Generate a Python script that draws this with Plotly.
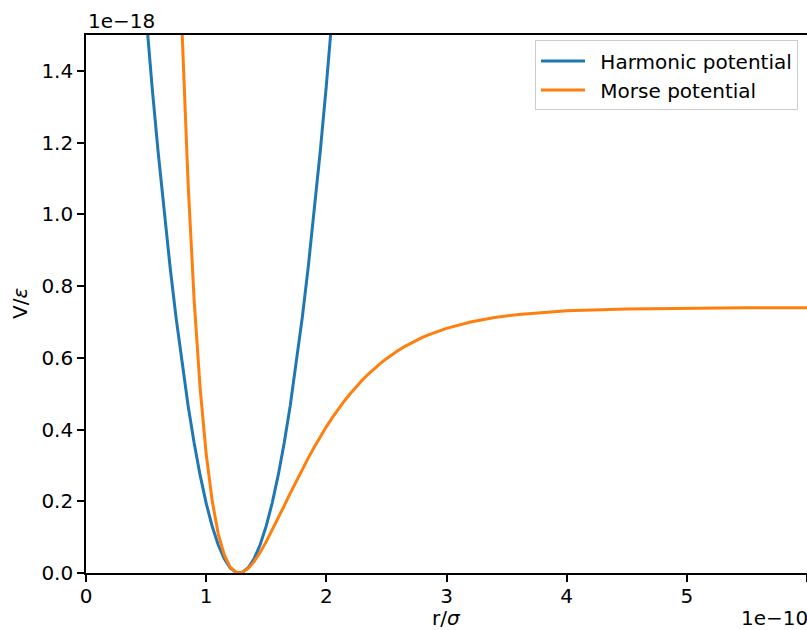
import plotly.graph_objects as go

# r in units of 1e-10 m, V in units of 1e-18 J
r_harm = [0.45, 0.50, 0.55, 0.60, 0.65, 0.70, 0.75, 0.80, 0.85, 0.90, 0.95, 1.00, 1.05, 1.10,
          1.15, 1.20, 1.25, 1.30, 1.35, 1.40, 1.45, 1.50, 1.55, 1.60, 1.65, 1.70, 1.75, 1.80,
          1.85, 1.90, 1.95, 2.00, 2.05, 2.10]
v_harm = [1.7557, 1.5492, 1.3557, 1.1750, 1.0073, 0.8525, 0.7106, 0.5816, 0.4655, 0.3623,
          0.2721, 0.1947, 0.1302, 0.0787, 0.0401, 0.0144, 0.0016, 0.0017, 0.0147, 0.0406,
          0.0794, 0.1312, 0.1958, 0.2734, 0.3639, 0.4673, 0.5836, 0.7128, 0.8549, 1.0099,
          1.1778, 1.3587, 1.5524, 1.7591]

r_morse = [0.70, 0.75, 0.80, 0.85, 0.90, 0.95, 1.00, 1.05, 1.10, 1.15, 1.20, 1.25, 1.30, 1.35,
           1.40, 1.45, 1.50, 1.55, 1.60, 1.65, 1.70, 1.75, 1.80, 1.85, 1.90, 1.95, 2.00, 2.05,
           2.10, 2.15, 2.20, 2.25, 2.30, 2.35, 2.40, 2.45, 2.50, 2.55, 2.60, 2.65, 2.70, 2.75,
           2.80, 2.85, 2.90, 2.95, 3.00, 3.20, 3.40, 3.60, 3.80, 4.00, 4.50, 5.00, 5.50, 6.00]
v_morse = [2.743, 2.0497, 1.5065, 1.0843, 0.7595, 0.5143, 0.3324, 0.2011, 0.1100, 0.0508,
           0.0166, 0.0016, 0.0016, 0.0128, 0.0323, 0.0578, 0.0874, 0.1197, 0.1535, 0.1880,
           0.2225, 0.2563, 0.2893, 0.3210, 0.3514, 0.3802, 0.4075, 0.4332, 0.4572, 0.4797,
           0.5006, 0.5201, 0.5381, 0.5548, 0.5703, 0.5845, 0.5976, 0.6097, 0.6208, 0.6310,
           0.6404, 0.6490, 0.6569, 0.6640, 0.6707, 0.6767, 0.6822, 0.7000, 0.7123, 0.7209,
           0.7268, 0.7309, 0.7364, 0.7386, 0.7395, 0.7398]

x_ticks = [0, 1, 2, 3, 4, 5, 6]
y_ticks = [0.0, 0.2, 0.4, 0.6, 0.8, 1.0, 1.2, 1.4]
y_tick_labels = ["0.0", "0.2", "0.4", "0.6", "0.8", "1.0", "1.2", "1.4"]

FONT = "DejaVu Sans"
FS = 20
PAD = "\u00a0\u2009"  # small gap between legend line and label

fig = go.Figure()
fig.add_trace(go.Scatter(x=r_harm, y=v_harm, mode="lines", name=PAD + "Harmonic potential",
                         line=dict(color="#1f77b4", width=3)))
fig.add_trace(go.Scatter(x=r_morse, y=v_morse, mode="lines", name=PAD + "Morse potential",
                         line=dict(color="#ff7f0e", width=3)))

axis_common = dict(showgrid=False, zeroline=False, showline=True, linecolor="black",
                   linewidth=1.6, ticks="outside", ticklen=7, tickwidth=1.6, tickcolor="black",
                   tickfont=dict(family=FONT, size=FS, color="black"))

fig.update_layout(
    width=807, height=630,
    margin=dict(l=86, r=0, t=35, b=57),
    plot_bgcolor="white", paper_bgcolor="white",
    font=dict(family=FONT, size=FS, color="black"),
    xaxis=dict(range=[0, 6], tickvals=x_ticks, mirror=True, ticklabelstandoff=-3,
               **axis_common),
    yaxis=dict(range=[0, 1.5], tickvals=y_ticks, ticktext=y_tick_labels, mirror=False,
               **axis_common),
    legend=dict(x=0.9875, y=0.99, xanchor="right", yanchor="top",
                bgcolor="rgba(255,255,255,0.8)", bordercolor="#cccccc", borderwidth=1,
                font=dict(family=FONT, size=FS, color="black"), itemwidth=44),
    showlegend=True,
    annotations=[
        dict(text="1e\u221218", xref="paper", yref="paper", x=0, y=1, xanchor="left",
             yanchor="bottom", showarrow=False, font=dict(family=FONT, size=FS)),
        dict(text="1e\u221210", xref="paper", yref="paper", x=1, y=0, xanchor="right",
             yanchor="top", xshift=3, yshift=-31, showarrow=False, font=dict(family=FONT, size=FS)),
        dict(text="r/<i>σ</i>", xref="paper", yref="paper", x=0.5, y=0, xanchor="center",
             yanchor="top", yshift=-31, showarrow=False, font=dict(family=FONT, size=FS)),
        dict(text="V/<i>ε</i>", xref="paper", yref="paper", x=-0.0915, y=0.5, xanchor="center",
             yanchor="middle", textangle=-90, showarrow=False, font=dict(family=FONT, size=FS)),
    ],
)

fig.write_html("out.html")
